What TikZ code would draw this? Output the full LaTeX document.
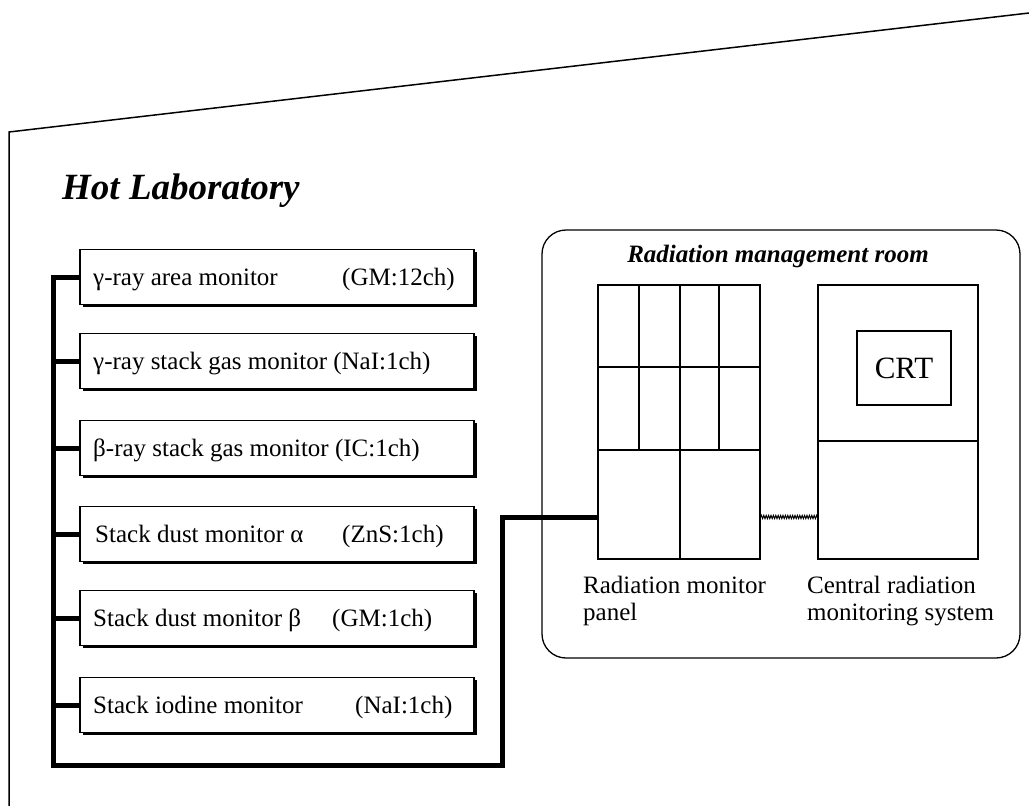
\documentclass[tikz,border=0pt]{standalone}
\usepackage{fontspec}
\setmainfont{Liberation Serif}
\usetikzlibrary{shadows,decorations.pathmorphing}
\begin{document}
\begin{tikzpicture}[x=1pt,y=-1pt,
  monbox/.style={draw, line width=1.4pt, fill=white, minimum width=394pt, minimum height=55pt, inner sep=0pt,
    drop shadow={shadow xshift=2.6pt, shadow yshift=-2.6pt, opacity=1, fill=black}},
  bus/.style={line width=5pt, line join=miter},
  lbl/.style={anchor=base west, inner sep=0pt, font=\fontsize{25}{28}\selectfont},
  unit/.style={draw, line width=1.6pt, inner sep=0pt},
  thin/.style={line width=1.2pt}]
\useasboundingbox (0,0) rectangle (1029,806);

% outer building outline
\draw[line width=1.5pt] (9,806) -- (9,132) -- (1029,13);
\node[anchor=base west, inner sep=0pt, font=\bfseries\itshape\fontsize{37}{40}\selectfont] (title) at (62,199) {Hot Laboratory};

% monitor boxes
\node[monbox] (m1) at (277,277) {};
\node[monbox] (m2) at (277,361) {};
\node[monbox] (m3) at (277,448) {};
\node[monbox] (m4) at (277,534) {};
\node[monbox] (m5) at (277,618) {};
\node[monbox] (m6) at (277,705) {};

\node[lbl] (t1a) at (93,285) {γ-ray area monitor};
\node[lbl] (t1b) at (342,285) {(GM:12ch)};
\node[lbl] (t2a) at (93,369) {γ-ray stack gas monitor (NaI:1ch)};
\node[lbl] (t3a) at (93,456) {β-ray stack gas monitor (IC:1ch)};
\node[lbl] (t4a) at (95,542) {Stack dust monitor α};
\node[lbl] (t4b) at (342,542) {(ZnS:1ch)};
\node[lbl] (t5a) at (93,626) {Stack dust monitor β};
\node[lbl] (t5b) at (332,626) {(GM:1ch)};
\node[lbl] (t6a) at (93,713) {Stack iodine monitor};
\node[lbl] (t6b) at (355,713) {(NaI:1ch)};

% radiation management room
\node[draw, line width=1.3pt, rounded corners=24pt, minimum width=478pt, minimum height=428pt, inner sep=0pt] (room) at (781,444) {};
\node[anchor=base, inner sep=0pt, font=\bfseries\itshape\fontsize{25}{28}\selectfont] (roomt) at (778,262) {Radiation management room};

% radiation monitor panel
\node[unit, minimum width=162pt, minimum height=274pt] (pnl) at (679,422) {};
\draw[thin] (598,367) -- (760,367);
\draw[thin] (598,450) -- (760,450);
\draw[thin] (639,285) -- (639,450);
\draw[thin] (719,285) -- (719,450);
\draw[thin] (680,285) -- (680,559);

% central radiation monitoring system
\node[unit, minimum width=160pt, minimum height=274pt] (crs) at (898,422) {};
\draw[thin] (818,441) -- (978,441);
\node[draw, line width=1.4pt, minimum width=94pt, minimum height=74pt, inner sep=0pt, font=\fontsize{31}{34}\selectfont] (crt) at (904,368) {CRT};

\node[anchor=north west, inner sep=0pt, align=left, font=\fontsize{25}{27}\selectfont] (pnlt) at (583,576) {Radiation monitor\\panel};
\node[anchor=north west, inner sep=0pt, align=left, font=\fontsize{25}{27}\selectfont] (crst) at (807,576) {Central radiation\\monitoring system};

% bus
\coordinate (bb) at (53,765);
\coordinate (br) at (502,765);
\coordinate (bu) at (502,517);
\draw[bus] (m1.west) -- (m1.west -| bb) -- (bb) -- (br) -- (bu) -- (bu -| pnl.west);
\foreach \m in {m2,m3,m4,m5,m6} \draw[bus] (\m.west) -- (\m.west -| bb);

% panel to central link
\draw[decorate, decoration={zigzag, segment length=2.4pt, amplitude=1.6pt}, line width=1pt] (bu -| pnl.east) -- (bu -| crs.west);
\end{tikzpicture}
\end{document}
